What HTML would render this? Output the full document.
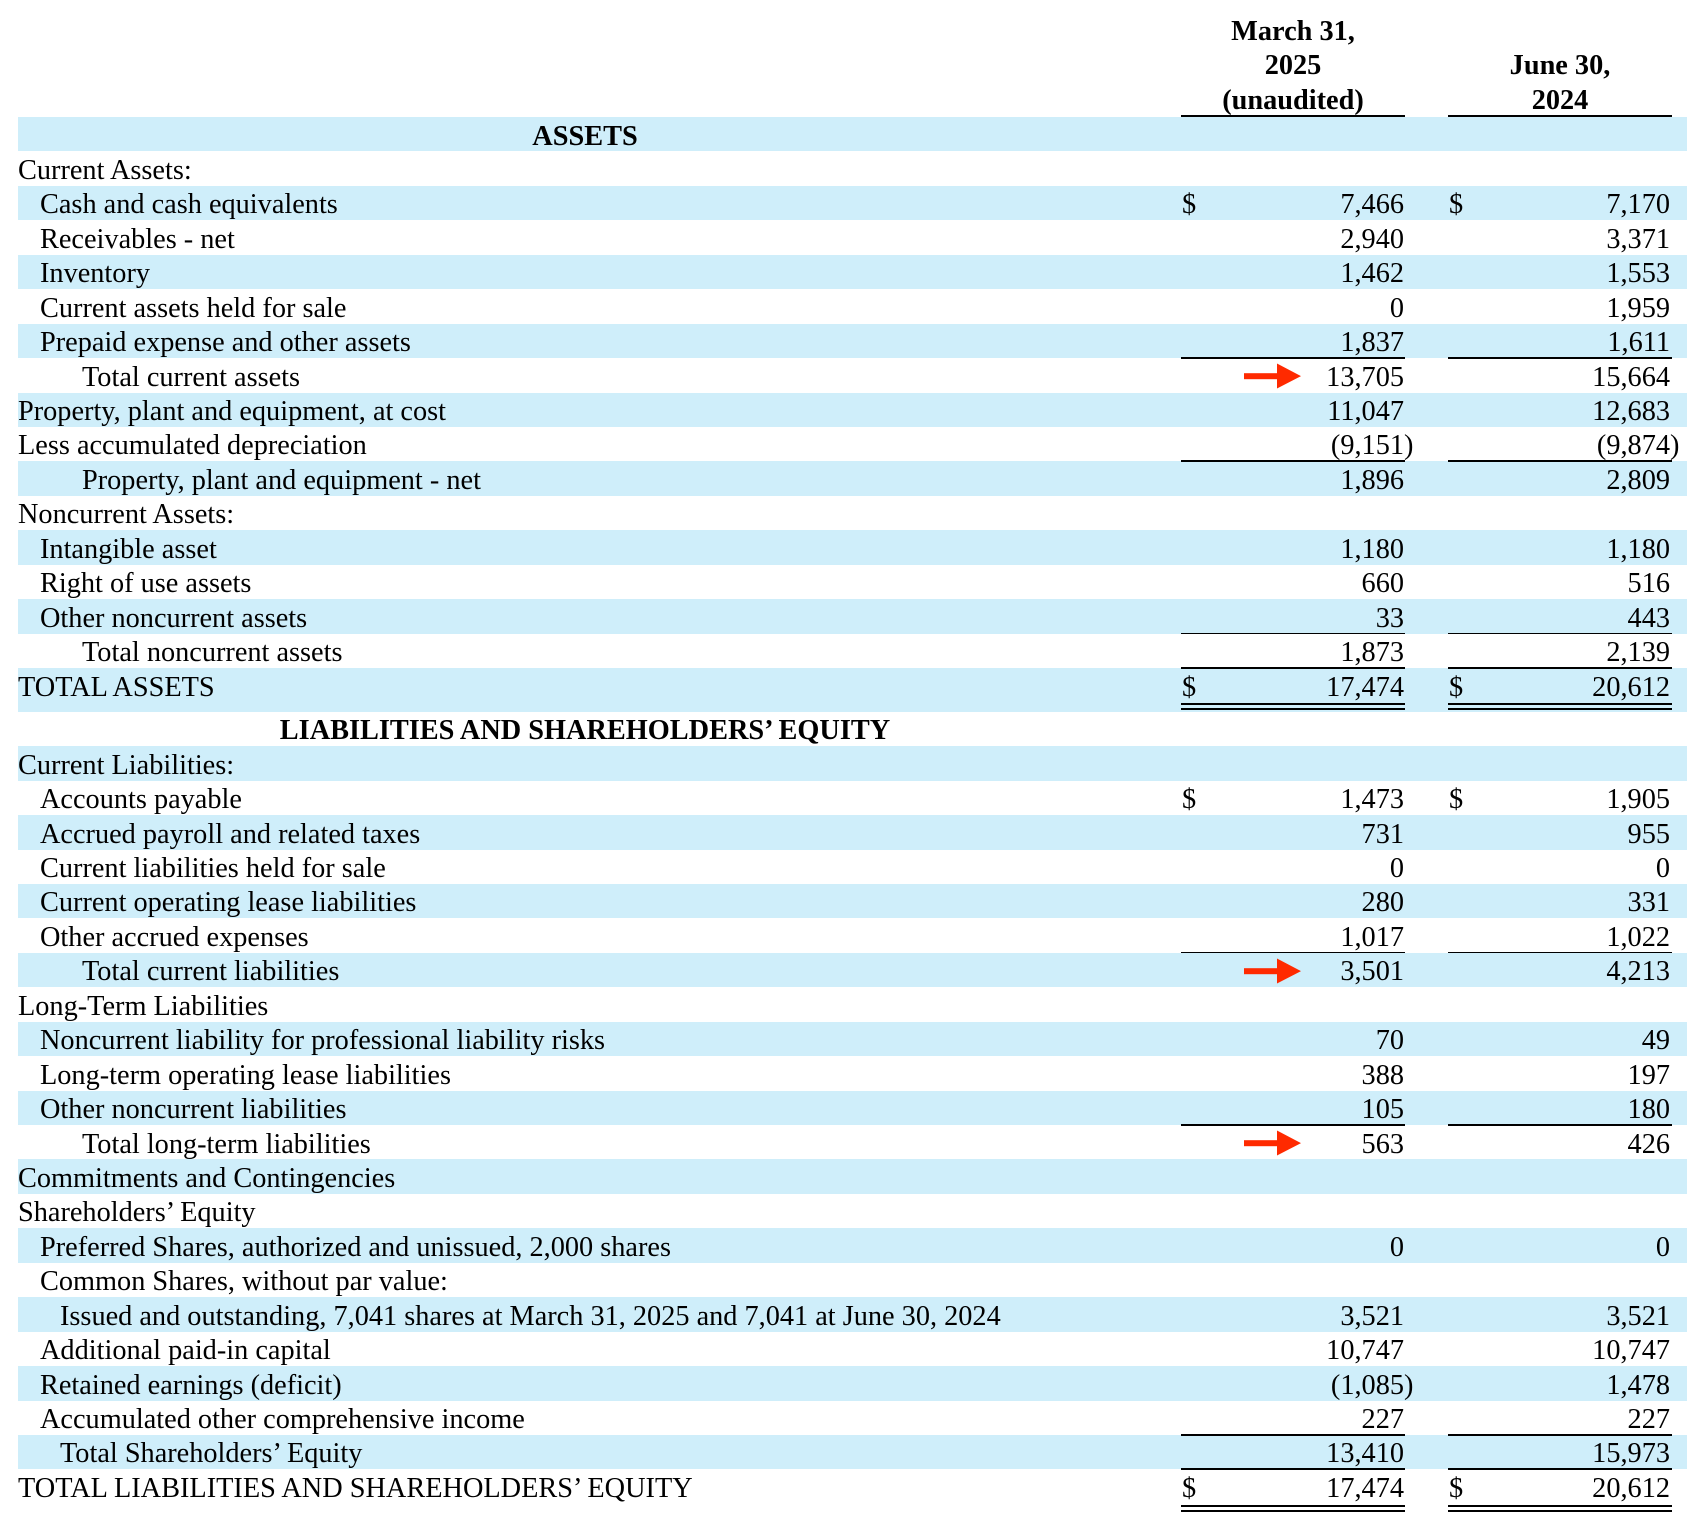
<!DOCTYPE html>
<html>
<head>
<meta charset="utf-8">
<style>
html,body{margin:0;padding:0;background:#fff;}
body{width:1708px;height:1520px;position:relative;overflow:hidden;font-family:"Liberation Serif","Times New Roman",serif;font-size:28.3px;color:#000;}
.h{position:absolute;font-weight:bold;line-height:34.45px;text-align:center;white-space:nowrap;transform:translateX(-50%);}
.hl{position:absolute;height:2px;background:#000;top:115px;}
.t{position:absolute;left:0;top:117px;width:1708px;}
.r{position:relative;width:1708px;height:34.45px;line-height:34.45px;white-space:nowrap;}
.b{background:linear-gradient(#cfeefa,#cfeefa) 18px 0/1669px 100% no-repeat;}
.tall{height:43.8px;}
.l,.c,.d1,.d2,.v1,.v2{top:2.5px;}
.l{position:absolute;left:18px;}
.i1{left:40px}.i2{left:60px}.i3{left:82px}
.c{position:absolute;left:585px;transform:translateX(-50%);font-weight:bold;}
.d1{position:absolute;left:1182px}
.d2{position:absolute;left:1449px}
.v1{position:absolute;right:304px}
.v2{position:absolute;right:38px}
.p{position:absolute;left:100%;top:0}
.ua::before,.ua::after{content:'';position:absolute;top:-1px;height:1.6px;background:#000;}
.ua::before{left:1181px;width:224px}
.ua::after{left:1448px;width:224px}
.dl{position:absolute;height:2px;background:#000;}
.ar{position:absolute;left:1240px;top:0;}
</style>
</head>
<body>
<div class="h" style="left:1293px;top:15px;">March 31,<br>2025<br>(unaudited)</div>
<div class="h" style="left:1560px;top:49.45px;">June 30,<br>2024</div>
<div class="hl" style="left:1181px;width:224px;"></div>
<div class="hl" style="left:1448px;width:224px;"></div>

<div class="t">
<div class="r b"><span class="c">ASSETS</span></div>
<div class="r"><span class="l">Current Assets:</span></div>
<div class="r b"><span class="l i1">Cash and cash equivalents</span><span class="d1">$</span><span class="v1">7,466</span><span class="d2">$</span><span class="v2">7,170</span></div>
<div class="r"><span class="l i1">Receivables - net</span><span class="v1">2,940</span><span class="v2">3,371</span></div>
<div class="r b"><span class="l i1">Inventory</span><span class="v1">1,462</span><span class="v2">1,553</span></div>
<div class="r"><span class="l i1">Current assets held for sale</span><span class="v1">0</span><span class="v2">1,959</span></div>
<div class="r b"><span class="l i1">Prepaid expense and other assets</span><span class="v1">1,837</span><span class="v2">1,611</span></div>
<div class="r ua"><span class="l i3">Total current assets</span><svg class="ar" width="70" height="34" viewBox="0 0 70 34"><rect x="4" y="15.2" width="34" height="6" fill="#ff2a00"/><polygon points="37,5.5 61,18.1 37,30.5" fill="#ff2a00"/></svg><span class="v1">13,705</span><span class="v2">15,664</span></div>
<div class="r b"><span class="l">Property, plant and equipment, at cost</span><span class="v1">11,047</span><span class="v2">12,683</span></div>
<div class="r"><span class="l">Less accumulated depreciation</span><span class="v1">(9,151<span class="p">)</span></span><span class="v2">(9,874<span class="p">)</span></span></div>
<div class="r b ua"><span class="l i3">Property, plant and equipment - net</span><span class="v1">1,896</span><span class="v2">2,809</span></div>
<div class="r"><span class="l">Noncurrent Assets:</span></div>
<div class="r b"><span class="l i1">Intangible asset</span><span class="v1">1,180</span><span class="v2">1,180</span></div>
<div class="r"><span class="l i1">Right of use assets</span><span class="v1">660</span><span class="v2">516</span></div>
<div class="r b"><span class="l i1">Other noncurrent assets</span><span class="v1">33</span><span class="v2">443</span></div>
<div class="r ua"><span class="l i3">Total noncurrent assets</span><span class="v1">1,873</span><span class="v2">2,139</span></div>
<div class="r b ua tall"><span class="l">TOTAL ASSETS</span><span class="d1">$</span><span class="v1">17,474</span><span class="d2">$</span><span class="v2">20,612</span>
<div class="dl" style="left:1181px;width:224px;top:34.8px"></div><div class="dl" style="left:1181px;width:224px;top:39.8px"></div>
<div class="dl" style="left:1448px;width:224px;top:34.8px"></div><div class="dl" style="left:1448px;width:224px;top:39.8px"></div></div>
<div class="r"><span class="c">LIABILITIES AND SHAREHOLDERS’ EQUITY</span></div>
<div class="r b"><span class="l">Current Liabilities:</span></div>
<div class="r"><span class="l i1">Accounts payable</span><span class="d1">$</span><span class="v1">1,473</span><span class="d2">$</span><span class="v2">1,905</span></div>
<div class="r b"><span class="l i1">Accrued payroll and related taxes</span><span class="v1">731</span><span class="v2">955</span></div>
<div class="r"><span class="l i1">Current liabilities held for sale</span><span class="v1">0</span><span class="v2">0</span></div>
<div class="r b"><span class="l i1">Current operating lease liabilities</span><span class="v1">280</span><span class="v2">331</span></div>
<div class="r"><span class="l i1">Other accrued expenses</span><span class="v1">1,017</span><span class="v2">1,022</span></div>
<div class="r b ua"><span class="l i3">Total current liabilities</span><svg class="ar" width="70" height="34" viewBox="0 0 70 34"><rect x="4" y="15.2" width="34" height="6" fill="#ff2a00"/><polygon points="37,5.5 61,18.1 37,30.5" fill="#ff2a00"/></svg><span class="v1">3,501</span><span class="v2">4,213</span></div>
<div class="r"><span class="l">Long-Term Liabilities</span></div>
<div class="r b"><span class="l i1">Noncurrent liability for professional liability risks</span><span class="v1">70</span><span class="v2">49</span></div>
<div class="r"><span class="l i1">Long-term operating lease liabilities</span><span class="v1">388</span><span class="v2">197</span></div>
<div class="r b"><span class="l i1">Other noncurrent liabilities</span><span class="v1">105</span><span class="v2">180</span></div>
<div class="r ua"><span class="l i3">Total long-term liabilities</span><svg class="ar" width="70" height="34" viewBox="0 0 70 34"><rect x="4" y="15.2" width="34" height="6" fill="#ff2a00"/><polygon points="37,5.5 61,18.1 37,30.5" fill="#ff2a00"/></svg><span class="v1">563</span><span class="v2">426</span></div>
<div class="r b"><span class="l">Commitments and Contingencies</span></div>
<div class="r"><span class="l">Shareholders’ Equity</span></div>
<div class="r b"><span class="l i1">Preferred Shares, authorized and unissued, 2,000 shares</span><span class="v1">0</span><span class="v2">0</span></div>
<div class="r"><span class="l i1">Common Shares, without par value:</span></div>
<div class="r b"><span class="l i2">Issued and outstanding, 7,041 shares at March 31, 2025 and 7,041 at June 30, 2024</span><span class="v1">3,521</span><span class="v2">3,521</span></div>
<div class="r"><span class="l i1">Additional paid-in capital</span><span class="v1">10,747</span><span class="v2">10,747</span></div>
<div class="r b"><span class="l i1">Retained earnings (deficit)</span><span class="v1">(1,085<span class="p">)</span></span><span class="v2">1,478</span></div>
<div class="r"><span class="l i1">Accumulated other comprehensive income</span><span class="v1">227</span><span class="v2">227</span></div>
<div class="r b ua"><span class="l i2">Total Shareholders’ Equity</span><span class="v1">13,410</span><span class="v2">15,973</span></div>
<div class="r ua tall"><span class="l">TOTAL LIABILITIES AND SHAREHOLDERS’ EQUITY</span><span class="d1">$</span><span class="v1">17,474</span><span class="d2">$</span><span class="v2">20,612</span>
<div class="dl" style="left:1181px;width:224px;top:35.8px"></div><div class="dl" style="left:1181px;width:224px;top:40.8px"></div>
<div class="dl" style="left:1448px;width:224px;top:35.8px"></div><div class="dl" style="left:1448px;width:224px;top:40.8px"></div></div>
</div>
</body>
</html>
